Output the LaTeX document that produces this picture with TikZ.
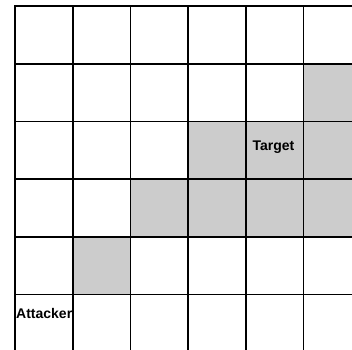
\documentclass[tikz,border=0pt]{standalone}
\usepackage{fontspec}
\setmainfont{Liberation Sans}
\usepackage{tikz}
\usetikzlibrary{positioning}
\usepackage{xcolor}
\definecolor{cellgray}{RGB}{204,204,204}
\tikzset{
  gridline/.style={black, line width=1.8pt, line cap=rect},
  celltext/.style={font=\bfseries\fontsize{14}{16}\selectfont, inner sep=0pt}
}

\begin{document}
\begin{tikzpicture}[x=1pt,y=1pt]
  \useasboundingbox (0,0) rectangle (352,349);
  \clip (0,0) rectangle (352,349);
  % shaded cells (column/row counted from the top left)
  \foreach \c/\r in {5/1, 3/2, 4/2, 5/2, 2/3, 3/3, 4/3, 5/3, 1/4} {
    \fill[cellgray] (15+\c*57.7, 343-\r*57.7) rectangle ++(57.7,-57.7);
  }
  % grid lines
  \foreach \i in {0,...,6} {
    \draw[gridline] (15+\i*57.7, 343) -- (15+\i*57.7, -5);
    \draw[gridline] (15, 343-\i*57.7) -- (360, 343-\i*57.7);
  }
  % labels
  \node[celltext] (target) at (273.5, 201.8) {Target};
  \node[celltext, anchor=west] (attacker) at (16, 36) {Attacker};
\end{tikzpicture}
\end{document}
